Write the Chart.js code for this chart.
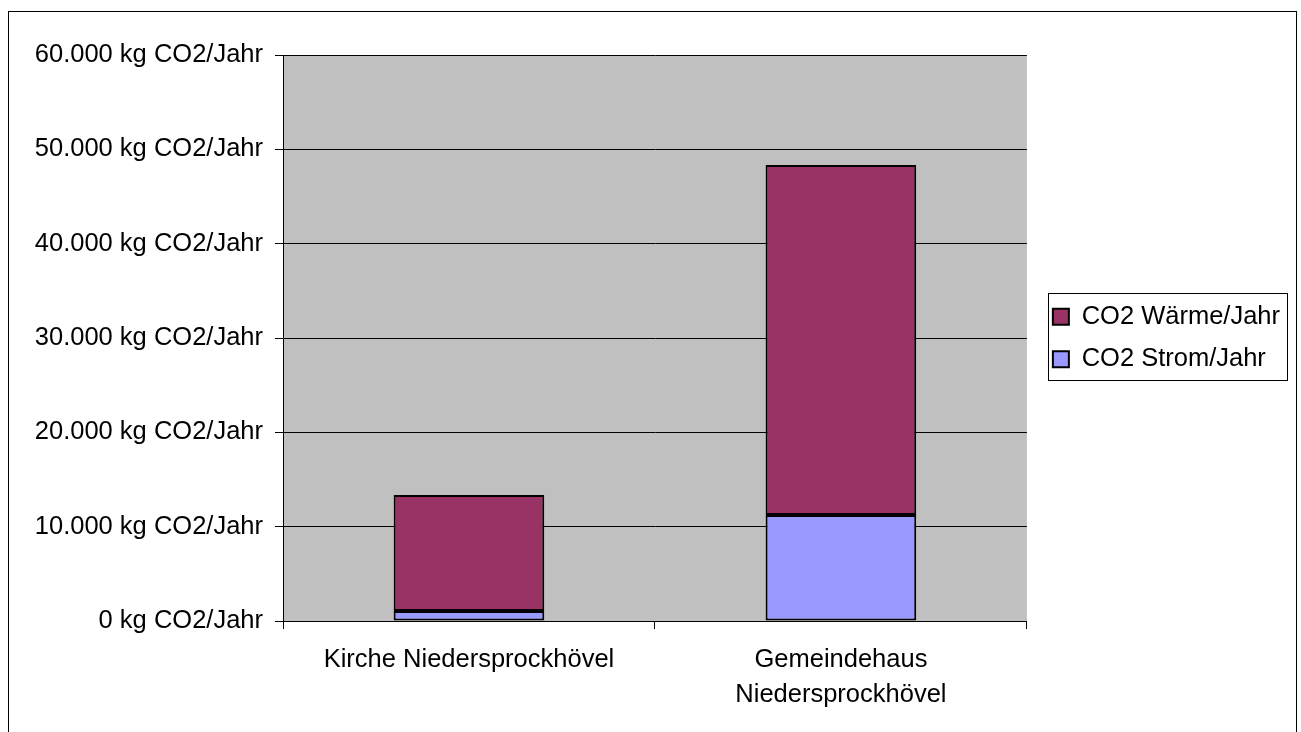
<!DOCTYPE html>
<html>
<head>
<meta charset="utf-8">
<script src="https://cdn.jsdelivr.net/npm/chart.js@4/dist/chart.umd.min.js"></script>
<style>
  html, body { margin: 0; padding: 0; background: #fff; }
  #wrap { width: 1301px; height: 732px; }
</style>
</head>
<body>
<div id="wrap"><canvas id="graph-co2"></canvas></div>
<script>
// données
const categories = ["Kirche Niedersprockhövel", ["Gemeindehaus", "Niedersprockhövel"]];
const stromParJahr = [1050, 11250];
const waermeParJahr = [12300, 37100];
const yTickValues = [0, 10000, 20000, 30000, 40000, 50000, 60000];
const yTickLabels = ["0 kg CO2/Jahr", "10.000 kg CO2/Jahr", "20.000 kg CO2/Jahr", "30.000 kg CO2/Jahr",
                     "40.000 kg CO2/Jahr", "50.000 kg CO2/Jahr", "60.000 kg CO2/Jahr"];

Chart.defaults.font.family = "'Liberation Sans', Arial, sans-serif";
Chart.defaults.font.size = 25.5;
Chart.defaults.color = "#000";

// fond gris de la zone de tracé + cadre extérieur + cadre de la légende
const decor = {
    id: "decor",
    beforeDraw(chart) {
        const { ctx, chartArea: a } = chart;
        ctx.save();
        ctx.fillStyle = "#C0C0C0";
        ctx.fillRect(a.left, a.top, a.right - a.left, a.bottom - a.top);
        ctx.strokeStyle = "#000";
        ctx.lineWidth = 1;
        ctx.strokeRect(8.5, 11.5, 1288, 800);
        ctx.restore();
    },
    afterDraw(chart) {
        const boxes = chart.legend.legendHitBoxes;
        if (!boxes || !boxes.length) return;
        const first = boxes[0], last = boxes[boxes.length - 1];
        const ctx = chart.ctx;
        ctx.save();
        ctx.strokeStyle = "#000";
        ctx.lineWidth = 1;
        const x = Math.round(first.left - 5) + 0.5;
        const y = Math.round(first.top - 11) + 0.5;
        const b = Math.round(last.top + last.height + 8) + 0.5;
        ctx.strokeRect(x, y, 239, b - y);
        ctx.restore();
    }
};

const ctx = document.getElementById("graph-co2").getContext("2d");
new Chart(ctx, {
    type: "bar",
    data: {
        labels: categories,
        datasets: [
            {
                label: "CO2 Strom/Jahr",
                data: stromParJahr,
                backgroundColor: "#9999FF",
                borderColor: "#000",
                borderWidth: 2,
                borderSkipped: false
            },
            {
                label: "CO2 Wärme/Jahr",
                data: waermeParJahr,
                backgroundColor: "#993366",
                borderColor: "#000",
                borderWidth: 2,
                borderSkipped: false
            }
        ]
    },
    options: {
        responsive: true,
        maintainAspectRatio: false,
        animation: false,
        layout: { padding: { top: 55, left: 0, right: 11, bottom: 0 } },
        datasets: { bar: { categoryPercentage: 1, barPercentage: 0.405 } },
        plugins: {
            legend: {
                position: "right",
                fullSize: false,
                reverse: true,
                maxWidth: 300,
                labels: {
                    boxWidth: 16,
                    boxHeight: 16,
                    padding: 17,
                    color: "#000",
                    font: { size: 25.5 }
                }
            },
            tooltip: { enabled: false }
        },
        scales: {
            x: {
                stacked: true,
                offset: true,
                grid: {
                    offset: true,
                    drawOnChartArea: false,
                    drawTicks: true,
                    tickLength: 8,
                    color: "#000"
                },
                border: { color: "#000", width: 1 },
                ticks: { color: "#000", padding: 14, maxRotation: 0, font: { size: 25.5, lineHeight: 1.36 } },
                afterFit(scale) { scale.height = 111; }
            },
            y: {
                stacked: true,
                min: 0,
                max: 60000,
                afterBuildTicks(scale) {
                    scale.ticks = yTickValues.map(v => ({ value: v }));
                },
                grid: { color: "#000", tickLength: 8, drawTicks: true },
                border: { color: "#000", width: 1 },
                ticks: {
                    color: "#000",
                    padding: 12,
                    callback: (value) => yTickLabels[yTickValues.indexOf(value)]
                },
                afterFit(scale) { scale.width = 283; }
            },
            espace: {
                type: "linear",
                position: "right",
                display: true,
                grid: { display: false },
                border: { display: false },
                ticks: { display: false },
                afterFit(scale) { scale.width = 9; }
            }
        }
    },
    plugins: [decor]
});
</script>
</body>
</html>
